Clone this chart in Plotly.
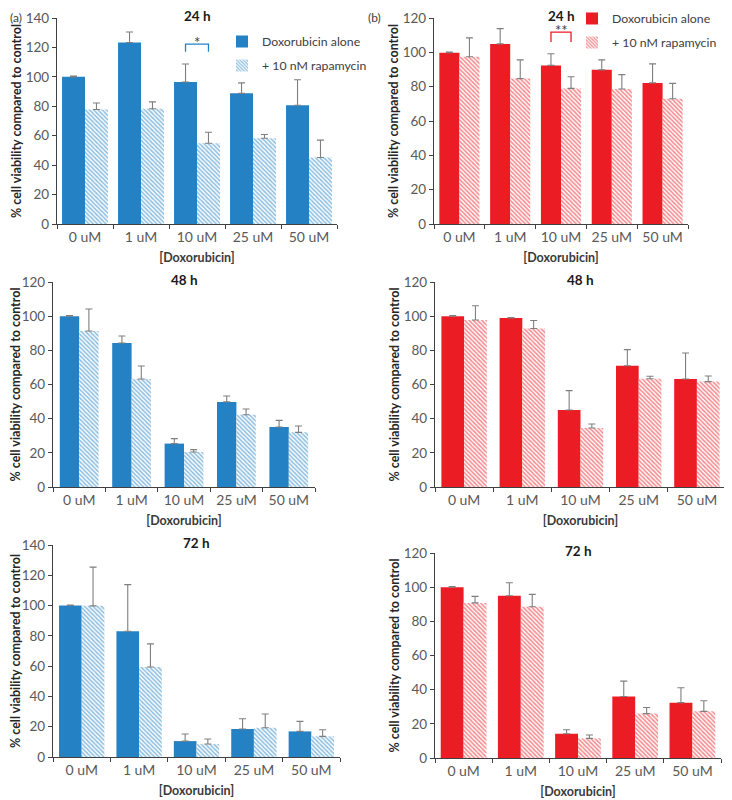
import plotly.graph_objects as go

# The page body adds an 8px margin, so the figure is 8px smaller
# and all reference pixel positions are shifted by OFF.
OFF = 8
W, H = 732 - OFF, 800 - OFF

categories = ["0 uM", "1 uM", "10 uM", "25 uM", "50 uM"]
series_names = ["Doxorubicin alone", "+ 10 nM rapamycin"]
panel_titles = ["24 h", "24 h", "48 h", "48 h", "72 h", "72 h"]

# (a) panels (blue)
a24_alone = [100, 123.4, 96.5, 88.8, 80.7]
a24_alone_err = [0.5, 7.1, 12.2, 7.1, 17.3]
a24_rapa = [77.8, 78.3, 54.9, 58.3, 45.2]
a24_rapa_err = [4.4, 4.7, 7.5, 2.5, 11.8]

a48_alone = [100, 84.3, 25.4, 49.8, 35.1]
a48_alone_err = [0.4, 4.1, 2.9, 3.5, 3.9]
a48_rapa = [91.3, 63.2, 20.5, 42.3, 32.0]
a48_rapa_err = [12.9, 7.6, 1.4, 3.4, 3.7]

a72_alone = [100, 83.0, 10.5, 18.5, 16.9]
a72_alone_err = [0.4, 30.8, 4.7, 6.8, 6.6]
a72_rapa = [99.8, 59.4, 8.6, 19.3, 13.6]
a72_rapa_err = [25.6, 15.3, 3.3, 9.1, 4.4]

# (b) panels (red)
b24_alone = [99.8, 104.9, 92.4, 89.8, 82.2]
b24_alone_err = [0.4, 8.9, 6.8, 5.8, 11.1]
b24_rapa = [97.4, 84.7, 79.0, 78.6, 73.0]
b24_rapa_err = [11.0, 10.9, 6.8, 8.4, 8.9]

b48_alone = [100, 98.9, 45.1, 71.0, 63.2]
b48_alone_err = [0.4, 0.3, 11.3, 9.4, 15.2]
b48_rapa = [97.8, 92.8, 34.5, 63.4, 61.7]
b48_rapa_err = [8.3, 4.7, 2.4, 1.4, 3.3]

b72_alone = [100, 95.0, 14.2, 36.0, 32.4]
b72_alone_err = [0.3, 7.6, 2.3, 9.0, 8.7]
b72_rapa = [90.8, 88.5, 11.5, 26.0, 27.3]
b72_rapa_err = [3.8, 7.3, 2.0, 3.6, 6.2]

y_max = [140, 120, 120, 120, 140, 120]
sig_labels = ["*", "**"]
sig_heights = [122.3, 111.8]
sig_leg = [5.3, 5.8]

BLUE = "#2481c3"
RED = "#ec1c24"
FONT = "Lato"

panels = [
    (a24_alone, a24_alone_err, a24_rapa, a24_rapa_err, BLUE),
    (b24_alone, b24_alone_err, b24_rapa, b24_rapa_err, RED),
    (a48_alone, a48_alone_err, a48_rapa, a48_rapa_err, BLUE),
    (b48_alone, b48_alone_err, b48_rapa, b48_rapa_err, RED),
    (a72_alone, a72_alone_err, a72_rapa, a72_rapa_err, BLUE),
    (b72_alone, b72_alone_err, b72_rapa, b72_rapa_err, RED),
]

# reference pixel boxes of plot areas: x0, x1, y0(top), y1(bottom)
boxes = [
    (57, 337, 18, 224),
    (434, 688, 18, 224),
    (53, 315, 282, 487),
    (435, 726, 282, 487),
    (53, 340, 545, 757),
    (435, 721, 553, 758),
]
bar_w = [0.41, 0.395, 0.37, 0.39, 0.395, 0.40]


def px(v):
    return (v - OFF) / W


def py(v):
    return 1 - (v - OFF) / H


fig = go.Figure()
layout = {}
annotations = []
shapes = []

for i, (alone, alone_err, rapa, rapa_err, col) in enumerate(panels):
    n = i + 1
    xa = "x" if n == 1 else f"x{n}"
    ya = "y" if n == 1 else f"y{n}"
    w = bar_w[i]
    show = i < 2
    leg = "legend" if i == 0 else "legend2"
    err_common = dict(type="data", symmetric=False, color="#7f7f7f",
                      thickness=1.1, width=3.5)
    fig.add_trace(go.Bar(
        x=categories, y=alone, xaxis=xa, yaxis=ya,
        width=w, offset=-w, name=series_names[0],
        marker=dict(color=col, line=dict(width=0)),
        error_y=dict(array=alone_err, arrayminus=[0] * 5, **err_common),
        showlegend=show, legend=leg, legendgroup=f"g{i}a",
    ))
    fig.add_trace(go.Bar(
        x=categories, y=rapa, xaxis=xa, yaxis=ya,
        width=w, offset=0, name=series_names[1],
        marker=dict(color="white", line=dict(width=0),
                    pattern=dict(shape="\\", fgcolor=col, bgcolor="white",
                                 size=3, solidity=0.55)),
        error_y=dict(array=rapa_err, arrayminus=[0] * 5, **err_common),
        showlegend=show, legend=leg, legendgroup=f"g{i}b",
    ))

    x0, x1, y0, y1 = boxes[i]
    xkey = "xaxis" if n == 1 else f"xaxis{n}"
    ykey = "yaxis" if n == 1 else f"yaxis{n}"
    layout[xkey] = dict(
        domain=[px(x0), px(x1)], anchor=ya, type="category",
        categoryorder="array", categoryarray=categories,
        range=[-0.5, 4.5], automargin=False,
        showline=True, linecolor="#404040", linewidth=1.2,
        ticks="outside", tickson="boundaries", ticklen=4, tickcolor="#404040",
        tickfont=dict(family=FONT, size=14, color="#595959"),
        title=dict(text="<b>[Doxorubicin]</b>", standoff=9,
                   font=dict(family=FONT, size=12.5, color="#3a3a3a")),
        showgrid=False, zeroline=False,
    )
    layout[ykey] = dict(
        domain=[py(y1), py(y0)], anchor=xa,
        range=[0, y_max[i]], dtick=20, automargin=False,
        showline=True, linecolor="#404040", linewidth=1.2,
        ticks="outside", ticklen=4, tickcolor="#404040",
        tickfont=dict(family=FONT, size=13.5, color="#595959"),
        title=dict(text="<b>% cell viability compared to control</b>", standoff=1,
                   font=dict(family=FONT, size=12.5, color="#262626")),
        showgrid=False, zeroline=False,
    )
    annotations.append(dict(
        text=f"<b>{panel_titles[i]}</b>", xref=f"{xa} domain", yref=f"{ya} domain",
        x=0.5, y=1.0, xanchor="center", yanchor="middle", yshift=2,
        showarrow=False, font=dict(family=FONT, size=13.5, color="#1a1a1a"),
    ))
    if i < 2:
        c = categories.index("10 uM")
        xl, xr = c - w / 2, c + w / 2
        top = sig_heights[i]
        lg = sig_leg[i]
        shapes.append(dict(type="path", xref=xa, yref=ya,
                           path=f"M {xl},{top - lg} L {xl},{top} L {xr},{top} L {xr},{top - lg}",
                           line=dict(color=col, width=1.3)))
        annotations.append(dict(
            text=sig_labels[i], xref=xa, yref=ya, x=c, y=top,
            xanchor="center", yanchor="bottom", yshift=-9, showarrow=False,
            font=dict(family=FONT, size=15, color="#404040"),
        ))

annotations.append(dict(text="(a)", xref="paper", yref="paper", x=0, y=1,
                        xanchor="left", yanchor="top", showarrow=False,
                        font=dict(family=FONT, size=12, color="#404040")))
annotations.append(dict(text="(b)", xref="paper", yref="paper", x=px(366), y=1,
                        xanchor="left", yanchor="top", showarrow=False,
                        font=dict(family=FONT, size=12, color="#404040")))

legend_common = dict(bgcolor="rgba(0,0,0,0)", font=dict(family=FONT, size=12.3, color="#404040"),
                     tracegroupgap=5, itemwidth=30, xanchor="left", yanchor="top",
                     traceorder="grouped")
fig.update_layout(
    width=W, height=H,
    margin=dict(l=0, r=0, t=0, b=0, autoexpand=False),
    paper_bgcolor="white", plot_bgcolor="white",
    barmode="overlay",
    showlegend=True,
    legend=dict(x=px(262 - 40), y=py(42 - 15), **legend_common),
    legend2=dict(x=px(612 - 40), y=py(19 - 15), **legend_common),
    annotations=annotations, shapes=shapes,
    **layout,
)

fig.write_html("out.html")
